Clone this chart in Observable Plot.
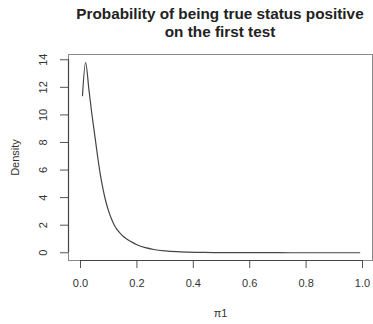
<!DOCTYPE html>
<html>
<head>
<meta charset="utf-8">
<script src="https://cdn.jsdelivr.net/npm/d3@7"></script>
<script src="https://cdn.jsdelivr.net/npm/@observablehq/plot@0.6"></script>
<style>
  html, body { margin: 0; padding: 0; background: #fff; }
  #chart { width: 373px; }
  .title {
    box-sizing: border-box;
    width: 373px;
    height: 44px;
    padding: 5px 1px 0 68px;
    font-family: "Liberation Sans", Arial, sans-serif;
    font-weight: bold;
    font-size: 15.3px;
    line-height: 18px;
    text-align: center;
    color: #222;
  }
  svg { display: block; }
</style>
</head>
<body>
<div id="chart">
  <div class="title">Probability of being true status positive<br>on the first test</div>
</div>
<script>
// Estimated density of pi1 (probability of being true status positive on the first test)
const pi1 = [0.007, 0.018, 0.03, 0.04, 0.05, 0.06, 0.07, 0.08, 0.09, 0.1, 0.11, 0.12, 0.13, 0.145, 0.16, 0.18, 0.2, 0.23, 0.26, 0.3, 0.34, 0.38, 0.44, 0.5, 0.6, 0.7, 0.8, 0.9, 0.99];
const density = [11.4, 13.8, 11.8, 10.1, 8.6, 7.1, 5.7, 4.6, 3.7, 3.0, 2.45, 2.0, 1.68, 1.32, 1.05, 0.8, 0.58, 0.37, 0.24, 0.14, 0.08, 0.05, 0.025, 0.015, 0.007, 0.004, 0.002, 0.001, 0.0005];

const xTicks = [0, 0.2, 0.4, 0.6, 0.8, 1.0];
const yTicks = [0, 2, 4, 6, 8, 10, 12, 14];

const curve = pi1.map((x, i) => ({x, y: density[i]}));

const font = "'Liberation Sans', Arial, sans-serif";
const xDomain = [-0.0426, 1.0355];
const yDomain = [-0.56, 14.38];

const chart = Plot.plot({
  width: 373,
  height: 280,
  marginTop: 10,
  marginBottom: 64,
  marginLeft: 68,
  marginRight: 1,
  style: {fontFamily: font, fontSize: "11px", color: "#555", background: "#fff"},
  x: {domain: xDomain},
  y: {domain: yDomain},
  marks: [
    Plot.frame({stroke: "#8a8a8a", strokeWidth: 1}),
    // tick marks only; labels are drawn below as text
    Plot.axisX({ticks: xTicks, tickSize: 8, tickFormat: () => "", label: null, stroke: "#555"}),
    Plot.axisY({ticks: yTicks, tickSize: 8, tickFormat: () => "", label: null, stroke: "#555"}),
    // axis lines spanning first to last tick
    Plot.ruleY([yDomain[0]], {x1: xTicks[0], x2: xTicks[xTicks.length - 1], stroke: "#444", strokeWidth: 1.2}),
    Plot.ruleX([xDomain[0]], {y1: yTicks[0], y2: yTicks[yTicks.length - 1], stroke: "#444", strokeWidth: 1.2}),
    // tick labels
    Plot.text(xTicks, {x: d => d, frameAnchor: "bottom", dy: 23, lineAnchor: "middle", text: d => d.toFixed(1), fill: "#333", fontSize: 11}),
    Plot.text(yTicks, {y: d => d, frameAnchor: "left", dx: -25.5, rotate: -90, lineAnchor: "middle", textAnchor: "middle", text: d => String(d), fill: "#333", fontSize: 11}),
    // axis titles
    Plot.text(["\u03c01"], {frameAnchor: "bottom", dy: 53, lineAnchor: "middle", fill: "#333", fontSize: 11}),
    Plot.text(["Density"], {frameAnchor: "left", dx: -53, rotate: -90, lineAnchor: "middle", textAnchor: "middle", fill: "#333", fontSize: 11}),
    // density curve
    Plot.line(curve, {x: "x", y: "y", curve: "monotone-x", stroke: "#444", strokeWidth: 1.2})
  ]
});

document.getElementById("chart").appendChild(chart);
</script>
</body>
</html>
